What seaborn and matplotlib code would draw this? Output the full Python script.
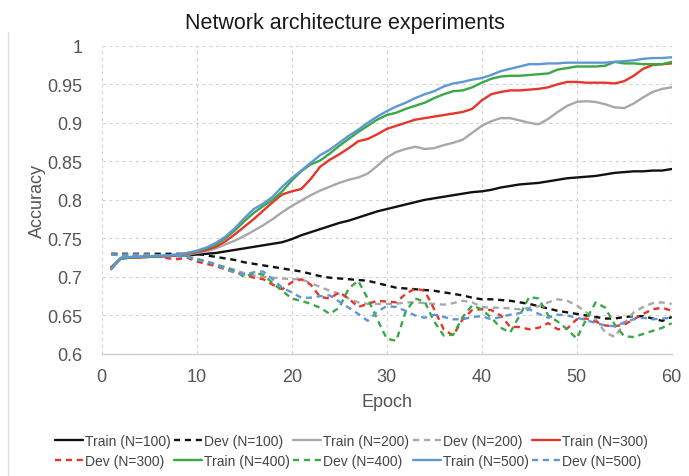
import matplotlib
matplotlib.use("Agg")
import matplotlib.pyplot as plt
import seaborn as sns
from matplotlib.lines import Line2D

# Values (accuracy per epoch)
epochs = list(range(1, 61))

train_100 = [0.712, 0.724, 0.725, 0.726, 0.726, 0.727, 0.727, 0.728, 0.728, 0.729,
             0.730, 0.731, 0.733, 0.735, 0.737, 0.739, 0.741, 0.743, 0.745, 0.749,
             0.754, 0.758, 0.762, 0.766, 0.770, 0.773, 0.777, 0.781, 0.785, 0.788,
             0.791, 0.794, 0.797, 0.800, 0.802, 0.804, 0.806, 0.808, 0.810, 0.811,
             0.813, 0.816, 0.818, 0.820, 0.821, 0.822, 0.824, 0.826, 0.828, 0.829,
             0.830, 0.831, 0.833, 0.835, 0.836, 0.837, 0.837, 0.838, 0.838, 0.840]
dev_100 = [0.730, 0.730, 0.730, 0.730, 0.730, 0.730, 0.730, 0.730, 0.730, 0.730,
           0.728, 0.726, 0.724, 0.722, 0.719, 0.717, 0.715, 0.713, 0.711, 0.709,
           0.707, 0.704, 0.701, 0.699, 0.698, 0.697, 0.696, 0.695, 0.692, 0.689,
           0.686, 0.685, 0.684, 0.683, 0.682, 0.680, 0.678, 0.676, 0.673, 0.671,
           0.671, 0.670, 0.669, 0.667, 0.665, 0.662, 0.659, 0.656, 0.654, 0.652,
           0.650, 0.648, 0.646, 0.646, 0.648, 0.649, 0.649, 0.646, 0.643, 0.648]
train_200 = [0.712, 0.724, 0.725, 0.726, 0.726, 0.727, 0.727, 0.728, 0.729, 0.731,
             0.733, 0.737, 0.742, 0.747, 0.753, 0.760, 0.767, 0.775, 0.784, 0.792,
             0.799, 0.806, 0.812, 0.817, 0.822, 0.826, 0.829, 0.834, 0.844, 0.855,
             0.862, 0.866, 0.869, 0.866, 0.867, 0.871, 0.874, 0.878, 0.887, 0.896,
             0.902, 0.906, 0.906, 0.903, 0.900, 0.898, 0.905, 0.914, 0.922, 0.927,
             0.928, 0.927, 0.924, 0.920, 0.919, 0.925, 0.933, 0.940, 0.944, 0.946]
dev_200 = [0.729, 0.729, 0.729, 0.729, 0.729, 0.728, 0.728, 0.728, 0.727, 0.724,
           0.720, 0.716, 0.713, 0.709, 0.705, 0.702, 0.700, 0.699, 0.698, 0.697,
           0.697, 0.692, 0.687, 0.682, 0.678, 0.672, 0.667, 0.665, 0.665, 0.665,
           0.665, 0.667, 0.667, 0.666, 0.665, 0.664, 0.666, 0.669, 0.667, 0.661,
           0.660, 0.660, 0.659, 0.658, 0.660, 0.662, 0.667, 0.671, 0.669, 0.663,
           0.654, 0.645, 0.628, 0.622, 0.640, 0.654, 0.661, 0.666, 0.667, 0.665]
train_300 = [0.712, 0.724, 0.725, 0.725, 0.726, 0.726, 0.727, 0.728, 0.730, 0.732,
             0.735, 0.739, 0.746, 0.755, 0.765, 0.775, 0.786, 0.797, 0.807, 0.811,
             0.814, 0.827, 0.843, 0.852, 0.859, 0.867, 0.876, 0.879, 0.885, 0.892,
             0.896, 0.900, 0.904, 0.906, 0.908, 0.910, 0.912, 0.914, 0.918, 0.929,
             0.937, 0.940, 0.942, 0.942, 0.943, 0.944, 0.946, 0.950, 0.953, 0.953,
             0.952, 0.952, 0.952, 0.951, 0.954, 0.961, 0.970, 0.975, 0.976, 0.977]
dev_300 = [0.730, 0.728, 0.727, 0.727, 0.727, 0.727, 0.724, 0.723, 0.725, 0.720,
           0.717, 0.714, 0.710, 0.706, 0.703, 0.699, 0.697, 0.690, 0.684, 0.693,
           0.697, 0.690, 0.674, 0.672, 0.680, 0.672, 0.661, 0.665, 0.669, 0.668,
           0.667, 0.678, 0.685, 0.682, 0.658, 0.632, 0.624, 0.645, 0.657, 0.658,
           0.657, 0.650, 0.635, 0.635, 0.632, 0.634, 0.640, 0.632, 0.633, 0.645,
           0.646, 0.642, 0.637, 0.636, 0.638, 0.645, 0.652, 0.658, 0.660, 0.656]
train_400 = [0.710, 0.724, 0.725, 0.726, 0.726, 0.727, 0.728, 0.729, 0.731, 0.733,
             0.737, 0.742, 0.750, 0.760, 0.772, 0.783, 0.792, 0.800, 0.811, 0.825,
             0.837, 0.846, 0.851, 0.860, 0.870, 0.879, 0.888, 0.896, 0.904, 0.910,
             0.913, 0.918, 0.922, 0.926, 0.932, 0.937, 0.941, 0.942, 0.946, 0.952,
             0.957, 0.960, 0.961, 0.961, 0.962, 0.963, 0.964, 0.969, 0.971, 0.973,
             0.973, 0.973, 0.974, 0.979, 0.977, 0.977, 0.976, 0.976, 0.976, 0.979]
dev_400 = [0.730, 0.728, 0.727, 0.727, 0.727, 0.727, 0.727, 0.727, 0.726, 0.722,
           0.720, 0.716, 0.712, 0.708, 0.700, 0.705, 0.703, 0.692, 0.682, 0.672,
           0.669, 0.665, 0.660, 0.652, 0.660, 0.685, 0.695, 0.672, 0.645, 0.620,
           0.617, 0.655, 0.672, 0.668, 0.642, 0.624, 0.625, 0.648, 0.663, 0.658,
           0.647, 0.634, 0.628, 0.650, 0.674, 0.672, 0.650, 0.642, 0.632, 0.620,
           0.645, 0.667, 0.660, 0.638, 0.623, 0.622, 0.626, 0.630, 0.634, 0.640]
train_500 = [0.710, 0.725, 0.726, 0.726, 0.727, 0.727, 0.728, 0.729, 0.731, 0.734,
             0.738, 0.744, 0.752, 0.763, 0.776, 0.788, 0.795, 0.804, 0.817, 0.828,
             0.838, 0.848, 0.858, 0.865, 0.874, 0.883, 0.891, 0.900, 0.908, 0.915,
             0.921, 0.926, 0.932, 0.937, 0.941, 0.947, 0.951, 0.953, 0.956, 0.958,
             0.962, 0.967, 0.970, 0.973, 0.976, 0.976, 0.977, 0.977, 0.978, 0.978,
             0.978, 0.978, 0.978, 0.979, 0.980, 0.981, 0.983, 0.984, 0.984, 0.985]
dev_500 = [0.729, 0.728, 0.728, 0.728, 0.728, 0.727, 0.727, 0.727, 0.726, 0.723,
           0.720, 0.716, 0.710, 0.706, 0.703, 0.706, 0.707, 0.697, 0.686, 0.680,
           0.673, 0.673, 0.675, 0.676, 0.668, 0.660, 0.652, 0.643, 0.655, 0.662,
           0.661, 0.656, 0.650, 0.647, 0.651, 0.648, 0.645, 0.645, 0.648, 0.649,
           0.645, 0.648, 0.651, 0.653, 0.658, 0.652, 0.647, 0.651, 0.650, 0.647,
           0.644, 0.640, 0.637, 0.636, 0.641, 0.645, 0.647, 0.645, 0.646, 0.647]

series = [
    ("Train (N=100)", train_100, "#111111", "-"),
    ("Dev (N=100)", dev_100, "#111111", "--"),
    ("Train (N=200)", train_200, "#a8a8a8", "-"),
    ("Dev (N=200)", dev_200, "#a8a8a8", "--"),
    ("Train (N=300)", train_300, "#e8352c", "-"),
    ("Dev (N=300)", dev_300, "#e8352c", "--"),
    ("Train (N=400)", train_400, "#3aa846", "-"),
    ("Dev (N=400)", dev_400, "#3aa846", "--"),
    ("Train (N=500)", train_500, "#5f97d6", "-"),
    ("Dev (N=500)", dev_500, "#5f97d6", "--"),
]

sns.set_theme(style="white")
plt.rcParams["font.family"] = ["Liberation Sans", "DejaVu Sans"]

fig = plt.figure(figsize=(6.89, 4.77), dpi=100)
ax = fig.add_axes([0.1476, 0.2558, 0.8273, 0.6463])

dash = (0, (2.6, 2.0))
for label, vals, color, style in series:
    sns.lineplot(x=epochs, y=vals, ax=ax, color=color, label=label,
                 linewidth=1.7, linestyle=dash if style == "--" else "-")

ax.set_xlim(0, 60)
ax.set_ylim(0.6, 1.0)
ax.set_xticks(range(0, 61, 10))
yt = [0.6, 0.65, 0.7, 0.75, 0.8, 0.85, 0.9, 0.95, 1.0]
ax.set_yticks(yt)
ax.set_yticklabels([f"{v:g}" for v in yt])
ax.tick_params(axis="both", length=0, labelsize=13, colors="#555555")
ax.tick_params(axis="y", pad=14)
ax.tick_params(axis="x", pad=10)

ax.grid(True, linestyle=(0, (3, 3)), color="#d4d4d4", linewidth=0.8)
for side in ["top", "right", "left"]:
    ax.spines[side].set_visible(False)
ax.spines["bottom"].set_color("#d0d0d0")
ax.spines["bottom"].set_linewidth(1.0)

ax.set_xlabel("Epoch", fontsize=13, color="#555555")
ax.set_ylabel("Accuracy", fontsize=13, color="#555555")
ax.xaxis.set_label_coords(0.5, -0.125)
ax.yaxis.set_label_coords(-0.098, 0.5)

fig.text(0.5, 0.951, "Network architecture experiments", ha="center", va="center",
         fontsize=15.5, color="#1a1a1a")

# legend laid out row by row, 5 per row
handles, labels = ax.get_legend_handles_labels()
ax.get_legend().remove()
order = [0, 5, 1, 6, 2, 7, 3, 8, 4, 9]
fig.legend([handles[i] for i in order], [labels[i] for i in order],
           loc="center", bbox_to_anchor=(0.51, 0.053), ncol=5, frameon=False,
           fontsize=10, handlelength=2.0, handletextpad=0.15, columnspacing=0.25,
           labelspacing=0.45, labelcolor="#444444")

# thin border line at the left edge of the slide
fig.add_artist(Line2D([0.012, 0.012], [0.0, 0.93], color="#dcdcdc", linewidth=1.0))

fig.savefig("out.png", dpi=100)
